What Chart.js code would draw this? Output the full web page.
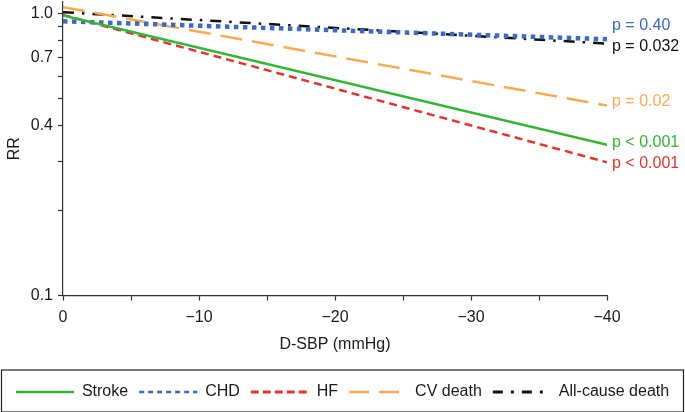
<!DOCTYPE html>
<html>
<head>
<meta charset="utf-8">
<script src="https://cdn.jsdelivr.net/npm/chart.js@4.4.0/dist/chart.umd.min.js"></script>
<style>
  html, body { margin: 0; padding: 0; background: #ffffff; }
  #wrap { width: 685px; height: 412px; position: relative; }
</style>
</head>
<body>
<div id="wrap"><canvas id="c" width="685" height="412"></canvas></div>
<script>
// ---- Data ----
const xValues = [0, -40];                      // D-SBP (mmHg) at the two ends of each line
const seriesNames = ['Stroke', 'CHD', 'HF', 'CV death', 'All-cause death'];
const strokeRR   = [0.985, 0.343];
const chdRR      = [0.940, 0.812];
const hfRR       = [0.990, 0.297];
const cvDeathRR  = [1.055, 0.472];
const allCauseRR = [1.012, 0.783];
const pValueLabels = ['p < 0.001', 'p = 0.40', 'p < 0.001', 'p = 0.02', 'p = 0.032'];
const yTickValues = [0.1, 0.2, 0.3, 0.4, 0.5, 0.6, 0.7, 0.8, 0.9, 1.0];
const yLabelledTicks = [0.1, 0.4, 0.7, 1.0];
const xTickStep = 5;
const xLabelStep = 10;

// ---- Styles ----
const colors = ['#32b532', '#3d68c4', '#e2362c', '#f9aa52', '#111111'];
const dashes = [[], [4.5, 4.5], [8, 5], [22, 10], [11, 8, 2.5, 8]];
const widths = [2.5, 4.5, 2.5, 2.5, 2.5];
const legendDashes = [[], [5, 4], [8, 4], [20, 10], [10, 8, 3, 8]];
const legendWidths = [2.5, 2.5, 3, 2.5, 3];
const labelOffsets = [-2, -14, 1.5, -4.5, 2.5];

const seriesValues = [strokeRR, chdRR, hfRR, cvDeathRR, allCauseRR];
const datasets = seriesNames.map((name, i) => ({
  label: name,
  data: xValues.map((x, j) => ({ x: x, y: seriesValues[i][j] })),
  borderColor: colors[i],
  backgroundColor: colors[i],
  borderWidth: widths[i],
  borderDash: dashes[i],
  pointRadius: 0,
  pointHoverRadius: 0,
  tension: 0,
  fill: false
}));

const FONT = "'Liberation Sans', Arial, Helvetica, sans-serif";
const TEXT = '#1a1a1a';
const AXIS = '#333333';

const pLabelPlugin = {
  id: 'pLabels',
  afterDatasetsDraw(chart) {
    const ctx = chart.ctx;
    ctx.save();
    ctx.font = '16px ' + FONT;
    ctx.textBaseline = 'middle';
    ctx.textAlign = 'left';
    chart.data.datasets.forEach((ds, i) => {
      const meta = chart.getDatasetMeta(i);
      const pt = meta.data[meta.data.length - 1];
      ctx.fillStyle = colors[i];
      ctx.fillText(pValueLabels[i], pt.x + 5, pt.y + labelOffsets[i]);
    });
    ctx.restore();
  }
};

const legendFramePlugin = {
  id: 'legendFrame',
  afterDraw(chart) {
    const lg = chart.legend;
    if (!lg || !lg.legendHitBoxes || !lg.legendHitBoxes.length) return;
    const hb = lg.legendHitBoxes[0];
    const cy = hb.top + hb.height / 2;
    const ctx = chart.ctx;
    ctx.save();
    ctx.strokeStyle = '#222222';
    ctx.lineWidth = 1.2;
    ctx.strokeRect(1.5, cy - 22, chart.width - 3, 42);
    ctx.restore();
  }
};

new Chart(document.getElementById('c'), {
  type: 'line',
  data: { datasets: datasets },
  options: {
    responsive: false,
    animation: false,
    events: [],
    layout: { padding: { left: 0, right: 0, top: 2, bottom: 2 } },
    plugins: {
      tooltip: { enabled: false },
      legend: {
        position: 'bottom',
        labels: {
          usePointStyle: true,
          pointStyle: 'line',
          pointStyleWidth: 58,
          boxHeight: 16,
          padding: 11,
          color: TEXT,
          font: { family: FONT, size: 16 },
          generateLabels: (chart) => {
            const items = Chart.defaults.plugins.legend.labels.generateLabels(chart);
            return items.map((it) => Object.assign(it, {
              lineDash: legendDashes[it.datasetIndex],
              lineWidth: legendWidths[it.datasetIndex],
              strokeStyle: colors[it.datasetIndex],
              fillStyle: colors[it.datasetIndex],
              pointStyle: 'line'
            }));
          }
        }
      }
    },
    scales: {
      x: {
        type: 'linear',
        min: -40,
        max: 0,
        reverse: true,
        border: { display: true, color: AXIS, width: 1.2 },
        grid: { drawOnChartArea: false, drawTicks: true, tickLength: 5, color: AXIS, tickWidth: 1.2 },
        ticks: {
          stepSize: xTickStep,
          autoSkip: false,
          maxRotation: 0,
          padding: 7,
          color: TEXT,
          font: { family: FONT, size: 16 },
          callback: (v) => (v % xLabelStep === 0 ? (v === 0 ? '0' : '\u2212' + Math.abs(v)) : '')
        },
        title: {
          display: true,
          text: 'D-SBP (mmHg)',
          color: TEXT,
          font: { family: FONT, size: 16 },
          padding: { top: 1, bottom: 19 }
        }
      },
      y: {
        type: 'logarithmic',
        min: 0.1,
        max: 1.1,
        border: { display: true, color: AXIS, width: 1.2 },
        grid: { drawOnChartArea: false, drawTicks: true, tickLength: 5, color: AXIS, tickWidth: 1.2 },
        afterBuildTicks: (axis) => { axis.ticks = yTickValues.map(v => ({ value: v })); },
        afterFit: (axis) => { axis.width = 63; axis.paddingTop = 0; axis.paddingBottom = 0; },
        ticks: {
          autoSkip: false,
          padding: 5,
          color: TEXT,
          font: { family: FONT, size: 16 },
          callback: (v) => (yLabelledTicks.includes(v) ? Number(v).toFixed(1) : '')
        },
        title: {
          display: true,
          text: 'RR',
          color: TEXT,
          font: { family: FONT, size: 16 },
          padding: { top: 5, bottom: 0 }
        }
      },
      yRight: {
        type: 'linear',
        position: 'right',
        display: true,
        border: { display: false },
        grid: { display: false, drawTicks: false },
        ticks: { display: false },
        afterFit: (axis) => { axis.width = 78; axis.paddingTop = 0; axis.paddingBottom = 0; }
      }
    }
  },
  plugins: [pLabelPlugin, legendFramePlugin]
});
</script>
</body>
</html>
